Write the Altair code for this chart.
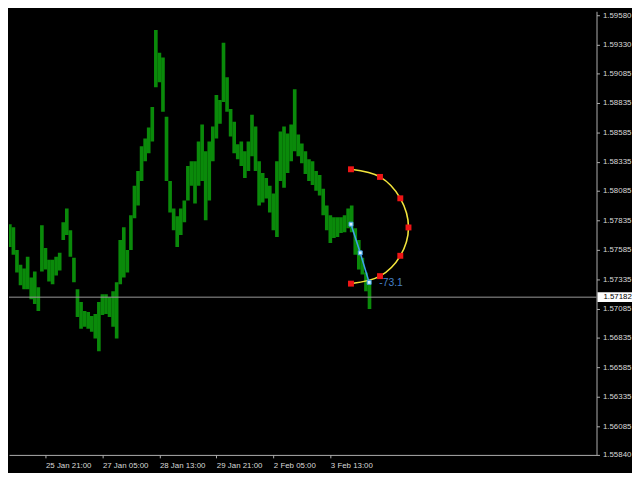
import json
import altair as alt
import pandas as pd

# ---------------- data ----------------
# time axis: trading hours counted from 24 Jan 13:00 (weekend skipped)
tick_hours = [0, 32, 64, 96, 128, 160, 192]
tick_labels = ["24 Jan 13:00", "25 Jan 21:00", "27 Jan 05:00", "28 Jan 13:00",
               "29 Jan 21:00", "2 Feb 05:00", "3 Feb 13:00"]
price_ticks = [1.59580, 1.59330, 1.59085, 1.58835, 1.58585, 1.58335, 1.58085, 1.57835,
               1.57585, 1.57335, 1.57085, 1.56835, 1.56585, 1.56335, 1.56085, 1.55840]

# one bar every 2 trading hours, first bar at hour 8
bar_first_hour = 8
bar_step_hours = 2
highs = [
    1.57811, 1.57811, 1.57802, 1.57777, 1.57584, 1.57458, 1.57425, 1.57525, 1.57350, 1.57400,
    1.57266, 1.57794, 1.57601, 1.57500, 1.57500, 1.57525, 1.57559, 1.57819, 1.57937, 1.57752,
    1.57517, 1.57249, 1.57140, 1.57064, 1.57056, 1.57022, 1.57039, 1.57140, 1.57207, 1.57207,
    1.57182, 1.57232, 1.57308, 1.57668, 1.57777, 1.57584, 1.57878, 1.58129, 1.58255, 1.58465,
    1.58532, 1.58625, 1.58800, 1.59454, 1.59262, 1.59220, 1.58717, 1.58171, 1.57937, 1.57870,
    1.57937, 1.58004, 1.58297, 1.58339, 1.58339, 1.58507, 1.58650, 1.58423, 1.58507, 1.58633,
    1.58901, 1.58859, 1.59346, 1.59052, 1.58783, 1.58675, 1.58482, 1.58507, 1.58423, 1.58507,
    1.58734, 1.58633, 1.58339, 1.58238, 1.58196, 1.58129, 1.58063, 1.58339, 1.58591, 1.58633,
    1.58574, 1.58650, 1.58951, 1.58566, 1.58490, 1.58423, 1.58356, 1.58339, 1.58255, 1.58221,
    1.58104, 1.57962, 1.57878, 1.57861, 1.57861, 1.57861, 1.57878, 1.57937, 1.57962, 1.57769,
    1.57668, 1.57517, 1.57392, 1.57316]
lows = [
    1.57634, 1.57626, 1.57609, 1.57542, 1.57392, 1.57283, 1.57249, 1.57249, 1.57165, 1.57123,
    1.57064, 1.57400, 1.57417, 1.57316, 1.57291, 1.57367, 1.57409, 1.57668, 1.57710, 1.57525,
    1.57308, 1.57014, 1.56913, 1.56930, 1.56913, 1.56888, 1.56830, 1.56721, 1.57031, 1.57039,
    1.57014, 1.56930, 1.56830, 1.57291, 1.57350, 1.57392, 1.57584, 1.57853, 1.57962, 1.58171,
    1.58339, 1.58406, 1.58507, 1.58968, 1.59010, 1.58759, 1.58171, 1.57903, 1.57752, 1.57609,
    1.57710, 1.57819, 1.58004, 1.58129, 1.57979, 1.58129, 1.58171, 1.57836, 1.58004, 1.58339,
    1.58532, 1.58658, 1.58842, 1.58759, 1.58549, 1.58406, 1.58356, 1.58297, 1.58196, 1.58255,
    1.58381, 1.58255, 1.57962, 1.57987, 1.58021, 1.57903, 1.57752, 1.57693, 1.58171, 1.58112,
    1.58238, 1.58339, 1.58423, 1.58381, 1.58322, 1.58230, 1.58171, 1.58137, 1.58088, 1.58046,
    1.57878, 1.57752, 1.57643, 1.57685, 1.57693, 1.57727, 1.57735, 1.57769, 1.57735, 1.57542,
    1.57417, 1.57375, 1.57232, 1.57081]

last_price = 1.57182

# semicircle tool: red anchor points (hour, price), top to bottom
arc_hours = [203.6, 219.9, 231.3, 235.9, 231.3, 219.9, 203.6]
arc_prices = [1.58270, 1.58205, 1.58023, 1.57775, 1.57534, 1.57361, 1.57297]

# angle line (blue) and its label
angle_hours = [203.6, 208.8, 213.8]
angle_prices = [1.57803, 1.57559, 1.57308]
angle_label = "-73.1"
angle_label_hour = 219.5
angle_label_price = 1.57300

# visible window
x_domain = [11.52, 341.5]
y_domain = [1.55840, 1.59614]

# ---------------- styling ----------------
BG = "#000000"
GREEN = "#0a8a0a"
AXIS_COL = "#b0b0b0"
LABEL_COL = "#d8d8d8"
FONT = "Liberation Sans"

xscale = alt.Scale(domain=x_domain, nice=False, zero=False)
yscale = alt.Scale(domain=y_domain, nice=False, zero=False)

label_expr = json.dumps(tick_labels) + "[round(datum.value / 32)]"
xaxis = alt.Axis(values=tick_hours, labelExpr=label_expr, labelAlign="left",
                 labelColor=LABEL_COL, labelFont=FONT, labelFontSize=8,
                 labelPadding=4, labelOverlap=False, tickColor=AXIS_COL,
                 tickSize=3, domainColor=AXIS_COL, grid=False, title=None)
yaxis = alt.Axis(orient="right", values=price_ticks, format=".5f",
                 labelColor=LABEL_COL, labelFont=FONT, labelFontSize=8,
                 labelPadding=3, labelOverlap=False, tickColor=AXIS_COL,
                 tickSize=3, domainColor=AXIS_COL, grid=False, title=None)


def X(field):
    return alt.X(field, type="quantitative", scale=xscale, axis=xaxis, title=None)


def Y(field):
    return alt.Y(field, type="quantitative", scale=yscale, axis=yaxis, title=None)


bars_df = pd.DataFrame({
    "h": [bar_first_hour + bar_step_hours * i for i in range(len(highs))],
    "high": highs,
    "low": lows,
})
bars = alt.Chart(bars_df).mark_rule(color=GREEN, strokeWidth=3.7, clip=True).encode(
    x=X("h"), y=Y("low"), y2="high")

price_df = pd.DataFrame({"p": [last_price], "label": [f"{last_price:.5f}"]})
price_line = alt.Chart(price_df).mark_rule(color="#9a9a9a", strokeWidth=1).encode(y=Y("p"))
price_box = alt.Chart(price_df).mark_rect(color="#ffffff", yOffset=-5, y2Offset=5).encode(
    x=alt.value(597), x2=alt.value(632), y=Y("p"), y2="p")
price_text = alt.Chart(price_df).mark_text(
    align="left", baseline="middle", font=FONT, fontSize=8, color="#000000").encode(
    x=alt.value(603), y=Y("p"), text="label")

arc_df = pd.DataFrame({"h": arc_hours, "p": arc_prices, "i": list(range(len(arc_hours)))})
arc_line = alt.Chart(arc_df).mark_line(color="#f2e43c", strokeWidth=1.6,
                                       interpolate="catmull-rom").encode(
    x=X("h"), y=Y("p"), order="i:Q")
arc_pts = alt.Chart(arc_df).mark_square(color="#ee1515", size=36, opacity=1).encode(
    x=X("h"), y=Y("p"))

ang_df = pd.DataFrame({"h": angle_hours, "p": angle_prices, "i": list(range(len(angle_hours)))})
ang_line = alt.Chart(ang_df).mark_line(color="#3fa0e8", strokeWidth=1.6).encode(
    x=X("h"), y=Y("p"), order="i:Q")
ang_pts = alt.Chart(ang_df).mark_square(fill="#d8f0ff", stroke="#3fa0e8", strokeWidth=1,
                                        size=16, opacity=1).encode(x=X("h"), y=Y("p"))

lab_df = pd.DataFrame({"h": [angle_label_hour], "p": [angle_label_price], "t": [angle_label]})
ang_text = alt.Chart(lab_df).mark_text(align="left", baseline="middle", font=FONT,
                                       fontSize=10.5, color="#4682c8").encode(
    x=X("h"), y=Y("p"), text="t")

chart = alt.layer(
    bars, price_line, arc_line, arc_pts, ang_line, ang_pts, ang_text, price_box, price_text
).properties(
    width=596, height=450, padding={"left": 0, "top": 0, "right": 0, "bottom": 0},
    background=BG,
).configure_view(strokeWidth=0)

chart.save("out.html", embed_options={"renderer": "svg", "actions": False})
